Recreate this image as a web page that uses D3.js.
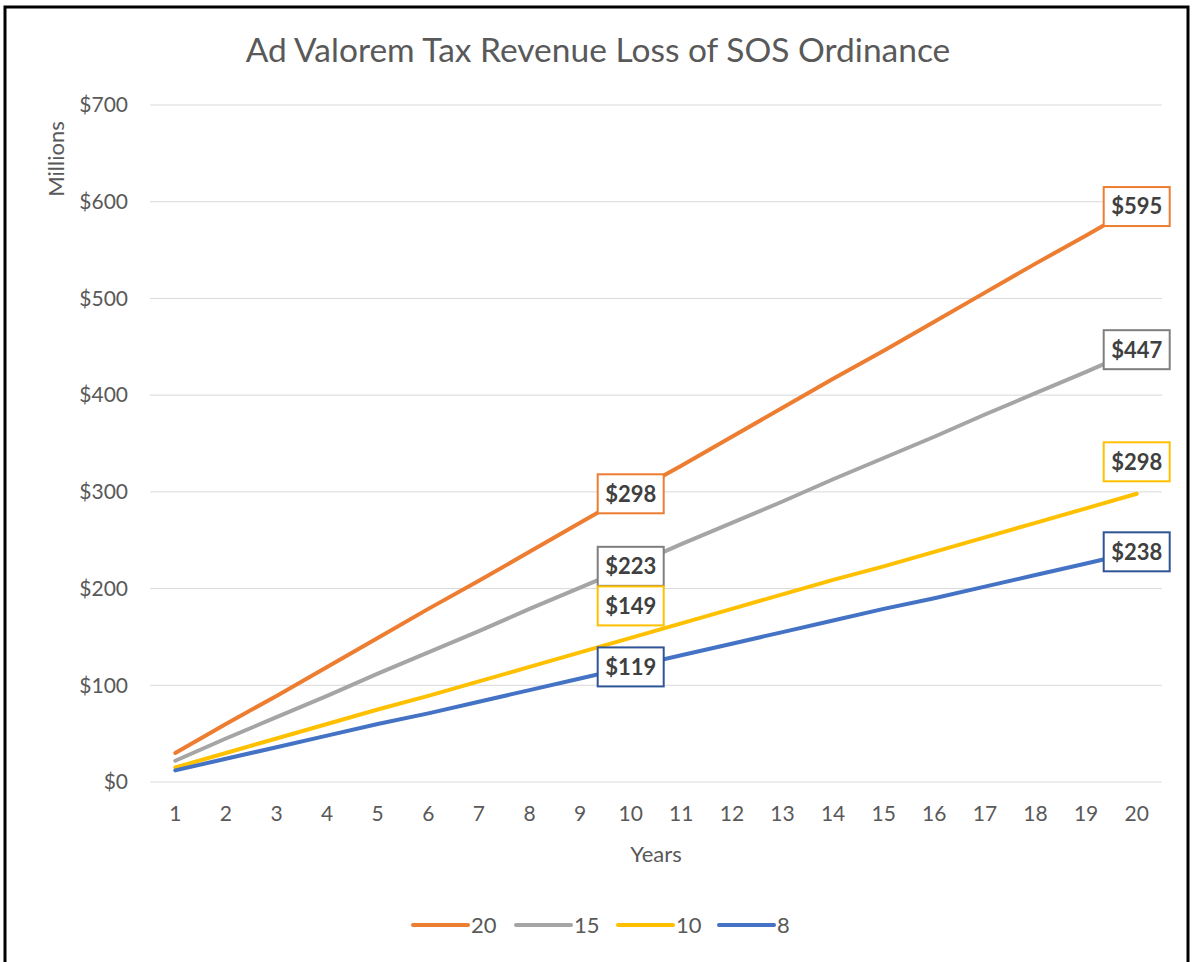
<!DOCTYPE html>
<html><head><meta charset="utf-8">
<script src="https://cdn.jsdelivr.net/npm/d3@7"></script>
<style>
html,body{margin:0;padding:0;background:#fff;}
svg{display:block;}
text{font-family:Lato,"Open Sans",sans-serif;}
</style></head>
<body>
<svg id="chart" width="1193" height="962"></svg>
<script>
const years = d3.range(1, 21);
const seriesNames = ["20", "15", "10", "8"];
const values20 = [30,60,89,119,149,179,208,238,268,298,327,357,387,417,446,476,506,536,565,595];
const values15 = [22,45,67,89,112,134,156,179,201,223,246,268,290,313,335,357,380,402,424,447];
const values10 = [15,30,45,60,75,89,104,119,134,149,164,179,194,209,223,238,253,268,283,298];
const values8  = [12,24,36,48,60,71,83,95,107,119,131,143,155,167,179,190,202,214,226,238];
const yTicks = [0,100,200,300,400,500,600,700];
const labelYears = [10, 20];

(function(){
const seriesValues = [values20, values15, values10, values8];
const lineColors = ["#ED7D31", "#A5A5A5", "#FFC000", "#4472C4"];
const boxColors = ["#ED7D31", "#7F7F7F", "#FFC000", "#2F5597"];
// label vertical nudges (px) per series per label year to avoid overlap
const labelNudge = [[0,0],[0,0],[-32,-32],[0,0]];

const svg = d3.select("#chart");
svg.append("rect").attr("x",5).attr("y",7).attr("width",1183).attr("height",960)
  .attr("fill","#fff").attr("stroke","#000").attr("stroke-width",3);

const pL = 150, pR = 1162, pT = 105, pB = 782;
const x = d3.scaleBand().domain(years).range([pL, pR]);
const xc = d => x(d) + x.bandwidth()/2;
const y = d3.scaleLinear().domain([0,700]).range([pB, pT]);

svg.append("g").selectAll("line").data(yTicks).join("line")
  .attr("x1", pL).attr("x2", pR)
  .attr("y1", d => y(d)).attr("y2", d => y(d))
  .attr("stroke", "#D9D9D9").attr("stroke-width", 1);

const yAxis = d3.axisLeft(y).tickValues(yTicks).tickFormat(d => "$" + d).tickSize(0).tickPadding(22);
const gy = svg.append("g").attr("transform", `translate(${pL},0)`).call(yAxis);
gy.select(".domain").remove();
gy.selectAll("text").attr("fill","#595959").style("font-size","21px").style("font-family","Lato,sans-serif");

const xAxis = d3.axisBottom(x).tickSize(0).tickPadding(24);
const gx = svg.append("g").attr("transform", `translate(0,${pB})`).call(xAxis);
gx.select(".domain").remove();
gx.selectAll("text").attr("fill","#595959").style("font-size","21px").style("font-family","Lato,sans-serif");

svg.append("text").attr("x", 598).attr("y", 62).attr("text-anchor","middle")
  .attr("fill","#595959").style("font-size","33.5px").text("Ad Valorem Tax Revenue Loss of SOS Ordinance");
svg.append("text").attr("transform","translate(64,159) rotate(-90)").attr("text-anchor","middle")
  .attr("fill","#595959").style("font-size","22px").text("Millions");
svg.append("text").attr("x", 656).attr("y", 862).attr("text-anchor","middle")
  .attr("fill","#595959").style("font-size","22px").text("Years");

const line = d3.line().x((d,i) => xc(years[i])).y(d => y(d));
svg.append("g").selectAll("path").data(seriesValues).join("path")
  .attr("d", d => line(d)).attr("fill","none")
  .attr("stroke", (d,i) => lineColors[i]).attr("stroke-width", 4)
  .attr("stroke-linejoin","round").attr("stroke-linecap","round");

const lbl = svg.append("g");
seriesValues.forEach((vals, si) => {
  labelYears.forEach((yr, li) => {
    const v = vals[years.indexOf(yr)];
    const cx = xc(yr), cy = y(v) + labelNudge[si][li];
    const g = lbl.append("g").attr("transform", `translate(${cx},${cy})`);
    g.append("rect").attr("x",-33).attr("y",-19.5).attr("width",66).attr("height",39)
      .attr("fill","#fff").attr("stroke", boxColors[si]).attr("stroke-width",2);
    g.append("text").attr("text-anchor","middle").attr("dy","0.36em")
      .attr("fill","#404040").style("font-size","22px").style("font-weight","bold")
      .text("$" + v);
  });
});

const legendX = [413, 516, 618, 719];
const lg = svg.append("g");
seriesNames.forEach((n, i) => {
  lg.append("line").attr("x1", legendX[i]).attr("x2", legendX[i] + 55)
    .attr("y1", 925).attr("y2", 925).attr("stroke", lineColors[i])
    .attr("stroke-width", 4).attr("stroke-linecap","round");
  lg.append("text").attr("x", legendX[i] + 58).attr("y", 925).attr("dy","0.36em")
    .attr("fill","#595959").style("font-size","22px").text(n);
});
})();
</script>
</body></html>
